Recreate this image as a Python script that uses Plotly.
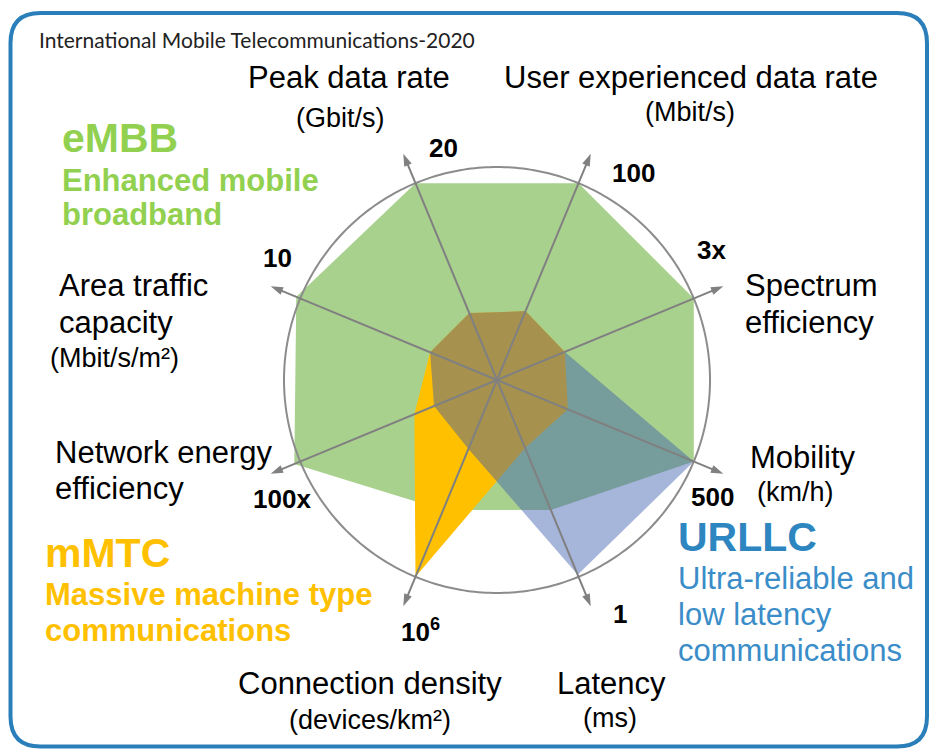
import numpy as np
import plotly.graph_objects as go

W, H = 933, 749

# ---- data -------------------------------------------------------------
axes_names = ["Peak data rate", "User experienced data rate", "Spectrum efficiency",
              "Mobility", "Latency", "Connection density",
              "Network energy efficiency", "Area traffic capacity"]
tick_labels = ["20", "100", "3x", "500", "1", "10<sup>6</sup>", "100x", "10"]
embb = [1.00, 1.00, 1.00, 1.00, 0.66, 0.66, 1.03, 1.02]
mmtc = [0.34, 0.35, 0.345, 0.36, 0.345, 1.00, 0.42, 0.34]
urllc = [0.34, 0.35, 0.345, 1.00, 0.99, 0.35, 0.32, 0.34]

n = len(axes_names)
theta = [-22.5 + 360.0 / n * i for i in range(n)]
ARROW_R = 1.15
R_MAX = 1.25

fig = go.Figure()


def polygon(vals, color, name):
    fig.add_trace(go.Scatterpolar(
        r=vals + vals[:1], theta=theta + theta[:1], mode="lines",
        fill="toself", fillcolor=color, line=dict(width=0, color=color),
        name=name, hoverinfo="skip", showlegend=False))


polygon(embb, "#A9D18E", "eMBB")
polygon(mmtc, "#FFC000", "mMTC")
polygon(urllc, "rgba(58,91,173,0.45)", "URLLC")

# outer circle
circ_t = np.linspace(0, 360, 361)
fig.add_trace(go.Scatterpolar(r=np.ones_like(circ_t), theta=circ_t, mode="lines",
                              line=dict(color="#8C8C8C", width=2),
                              hoverinfo="skip", showlegend=False))

# axis arrows
for name, t in zip(axes_names, theta):
    fig.add_trace(go.Scatterpolar(r=[0, ARROW_R - 0.02], theta=[t, t], mode="lines",
                                  line=dict(color="#808080", width=2),
                                  hoverinfo="skip", showlegend=False))
fig.add_trace(go.Scatterpolar(
    r=[ARROW_R] * n, theta=theta, mode="markers",
    marker=dict(symbol="arrow", size=13, color="#808080", angle=theta,
                line=dict(width=0)),
    hoverinfo="skip", showlegend=False))

# ---- layout ----------------------------------------------------------
cx, cy, rad = 497, 380, 213
outer = rad * R_MAX


def px(x):
    return x / W


def py(y):
    return 1 - y / H


fig.update_layout(
    width=W, height=H, margin=dict(l=0, r=0, t=0, b=0),
    paper_bgcolor="white", plot_bgcolor="white",
    polar=dict(
        domain=dict(x=[px(cx - outer), px(cx + outer)], y=[py(cy + outer), py(cy - outer)]),
        bgcolor="rgba(0,0,0,0)",
        radialaxis=dict(range=[0, R_MAX], visible=False),
        angularaxis=dict(visible=False, rotation=90, direction="clockwise"),
    ),
)

# rounded border
x0, x1, y0, y1, rr = 10.5, 927, 13, 746.5, 30
path = (f"M {px(x0 + rr)},{py(y0)} L {px(x1 - rr)},{py(y0)} "
        f"Q {px(x1)},{py(y0)} {px(x1)},{py(y0 + rr)} "
        f"L {px(x1)},{py(y1 - rr)} Q {px(x1)},{py(y1)} {px(x1 - rr)},{py(y1)} "
        f"L {px(x0 + rr)},{py(y1)} Q {px(x0)},{py(y1)} {px(x0)},{py(y1 - rr)} "
        f"L {px(x0)},{py(y0 + rr)} Q {px(x0)},{py(y0)} {px(x0 + rr)},{py(y0)} Z")
fig.add_shape(type="path", path=path, xref="paper", yref="paper",
              line=dict(color="#2A7FBA", width=4))

SANS = "Liberation Sans, Arial, sans-serif"
GREEN, ORANGE, BLUE = "#92D050", "#FFC000", "#2E86C1"


def txt(text, x, y, size, anchor="center", color="black", bold=False, family=SANS):
    if bold:
        text = f"<b>{text}</b>"
    fig.add_annotation(text=text, x=px(x), y=py(y), xref="paper", yref="paper",
                       xanchor=anchor, yanchor="middle", showarrow=False,
                       font=dict(size=size, color=color, family=family))


txt("International Mobile Telecommunications-2020", 37, 40, 21, "left", "#222222",
    family="Lato, sans-serif")

BIG, SMALL, NUM = 31, 27, 26
# axis titles
txt("Peak data rate", 349, 77, BIG)
txt("(Gbit/s)", 340, 118, SMALL)
txt("User experienced data rate", 691, 77, BIG)
txt("(Mbit/s)", 690, 112, SMALL)
txt("Spectrum", 743, 285, BIG, "left")
txt("efficiency", 743, 322, BIG, "left")
txt("Mobility", 748, 457, BIG, "left")
txt("(km/h)", 755, 492, SMALL, "left")
txt("Latency", 611, 683, BIG)
txt("(ms)", 610, 718, SMALL)
txt("Connection density", 370, 683, BIG)
txt("(devices/km²)", 370, 720, SMALL)
txt("Network energy", 53, 452, BIG, "left")
txt("efficiency", 53, 489, BIG, "left")
txt("Area traffic", 57, 285, BIG, "left")
txt("capacity", 57, 322, BIG, "left")
txt("(Mbit/s/m²)", 48, 358, SMALL, "left")

# tick values at arrow tips
tick_pos = [(443, 148), (633, 173), (711, 250), (712, 497), (620, 614), (420, 630), (282, 499), (277, 258)]
for lab, (x, y) in zip(tick_labels, tick_pos):
    txt(lab, x, y, NUM, bold=True)

# usage-scenario labels
txt("eMBB", 60, 138, 41, "left", GREEN, bold=True)
txt("Enhanced mobile", 60, 180, 31, "left", GREEN, bold=True)
txt("broadband", 60, 214, 31, "left", GREEN, bold=True)
txt("mMTC", 43, 553, 41, "left", ORANGE, bold=True)
txt("Massive machine type", 43, 594, 31, "left", ORANGE, bold=True)
txt("communications", 43, 630, 31, "left", ORANGE, bold=True)
txt("URLLC", 676, 537, 41, "left", BLUE, bold=True)
txt("Ultra-reliable and", 676, 578, 31, "left", "#3A8DC8")
txt("low latency", 676, 614, 31, "left", "#3A8DC8")
txt("communications", 676, 650, 31, "left", "#3A8DC8")

fig.write_html("out.html", config={"displayModeBar": False},
               post_script="document.body.style.margin='0';document.body.style.padding='0';")
